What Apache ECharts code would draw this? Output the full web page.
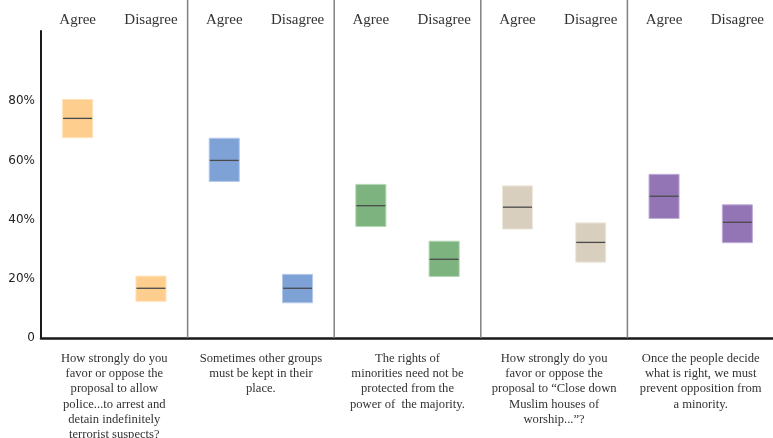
<!DOCTYPE html>
<html>
<head>
<meta charset="utf-8">
<script src="https://cdn.jsdelivr.net/npm/echarts@6/dist/echarts.min.js"></script>
<style>
html,body{margin:0;padding:0;background:#fff;}
#chart{width:773px;height:438px;}
</style>
</head>
<body>
<div id="chart"></div>
<script>
// ---- data ----
var responses = ['Agree','Disagree','Agree','Disagree','Agree','Disagree','Agree','Disagree','Agree','Disagree'];
var questions = [
  'How strongly do you\nfavor or oppose the\nproposal to allow\npolice...to arrest and\ndetain indefinitely\nterrorist suspects?',
  'Sometimes other groups\nmust be kept in their\nplace.',
  'The rights of\nminorities need not be\nprotected from the\npower of  the majority.',
  'How strongly do you\nfavor or oppose the\nproposal to \u201cClose down\nMuslim houses of\nworship...\u201d?',
  'Once the people decide\nwhat is right, we must\nprevent opposition from\na minority.'
];
var lows    = [67.7, 12.4, 52.9, 11.9, 37.7, 20.8, 36.8, 25.6, 40.4, 32.2];
var highs   = [80.6, 20.9, 67.5, 21.5, 51.9, 32.7, 51.4, 38.9, 55.3, 45.0];
var medians = [74.2, 16.8, 60.0, 16.8, 44.7, 26.6, 44.2, 32.3, 47.9, 39.1];
var yTicks  = [0, 20, 40, 60, 80];
var panels  = [1, 2, 3, 4];

// ---- styles ----
var fills   = ['#FDCE8E', '#7EA1D6', '#7DB37F', '#D9CFBF', '#9374B5'];
var borders = ['#FFE2B8', '#B4C9EA', '#B3D6B4', '#EEE8DE', '#C1AED8'];

var boxData = responses.map(function (r, i) {
  return [i, lows[i], highs[i], medians[i]];
});
var dividerData = panels.map(function (p) { return [p * 2, 0]; });

var chart = echarts.init(document.getElementById('chart'), null, {renderer: 'canvas'});
var serif = '"Liberation Serif", "DejaVu Serif", serif';

chart.setOption({
  animation: false,
  backgroundColor: '#fff',
  grid: {left: 41, width: 733, top: 0, bottom: 100, containLabel: false, outerBoundsMode: 'none'},
  xAxis: [
    {
      type: 'category', data: responses, position: 'top',
      axisLine: {show: false}, axisTick: {show: false}, splitLine: {show: false},
      axisLabel: {inside: true, interval: 0, margin: 13, fontFamily: serif, fontSize: 15, color: '#333'}
    },
    {
      type: 'category', data: questions, position: 'bottom',
      axisLine: {show: true, lineStyle: {color: '#1a1a1a', width: 2.5}},
      axisTick: {show: false}, splitLine: {show: false},
      axisLabel: {interval: 0, margin: 13, fontFamily: serif, fontSize: 12.6, lineHeight: 15.2, color: '#333', align: 'center'}
    }
  ],
  yAxis: {
    type: 'value', min: 0, max: 114.2, interval: 20,
    axisLine: {show: false}, axisTick: {show: false}, splitLine: {show: false},
    axisLabel: {
      margin: 6, fontFamily: '"DejaVu Sans", sans-serif', fontSize: 12, color: '#222',
      formatter: function (v) {
        if (yTicks.indexOf(v) < 0) return '';
        return v === 0 ? '0' : v + '%';
      }
    }
  },
  series: [
    {
      type: 'custom', xAxisIndex: 0, silent: true, z: 1,
      data: dividerData,
      renderItem: function (params, api) {
        var cs = params.coordSys;
        var band = api.size([1, 0])[0];
        var x = api.coord([api.value(0), 0])[0] - band / 2;
        return {
          type: 'line',
          shape: {x1: x, y1: cs.y, x2: x, y2: cs.y + cs.height},
          style: {stroke: '#808080', lineWidth: 1.5}
        };
      }
    },
    {
      type: 'custom', xAxisIndex: 0, silent: true, z: 3,
      data: [[0, 104]],
      renderItem: function (params, api) {
        var cs = params.coordSys;
        var top = api.coord([0, api.value(1)])[1];
        return {
          type: 'line',
          shape: {x1: cs.x, y1: top, x2: cs.x, y2: cs.y + cs.height},
          style: {stroke: '#1a1a1a', lineWidth: 2}
        };
      }
    },
    {
      type: 'custom', xAxisIndex: 0, silent: true, z: 2,
      data: boxData,
      renderItem: function (params, api) {
        var idx = api.value(0);
        var panel = Math.floor(idx / 2);
        var band = api.size([1, 0])[0];
        var w = band * 0.41;
        var pLow = api.coord([idx, api.value(1)]);
        var pHigh = api.coord([idx, api.value(2)]);
        var pMid = api.coord([idx, api.value(3)]);
        var cx = pLow[0];
        return {
          type: 'group',
          children: [
            {
              type: 'rect',
              shape: {x: cx - w / 2, y: pHigh[1], width: w, height: pLow[1] - pHigh[1]},
              style: {fill: fills[panel], stroke: borders[panel], lineWidth: 1}
            },
            {
              type: 'line',
              shape: {x1: cx - w / 2 + 0.5, y1: pMid[1], x2: cx + w / 2 - 0.5, y2: pMid[1]},
              style: {stroke: '#4a4a4a', lineWidth: 1.3}
            }
          ]
        };
      }
    }
  ]
});
</script>
</body>
</html>
